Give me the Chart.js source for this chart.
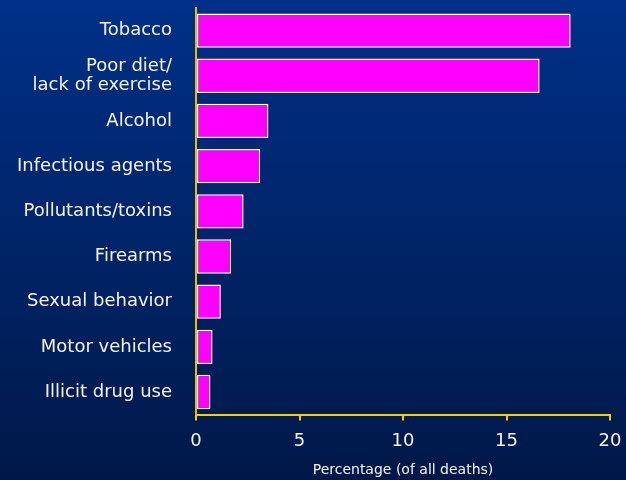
<!DOCTYPE html>
<html>
<head>
<meta charset="utf-8">
<script src="https://cdn.jsdelivr.net/npm/chart.js@4"></script>
<style>
  html, body { margin: 0; padding: 0; background: #001a4d; }
  canvas { display: block; }
</style>
</head>
<body>
<canvas id="chart" width="626" height="480"></canvas>
<script>
const categories = [
    'Tobacco',
    ['Poor diet/', 'lack of exercise'],
    'Alcohol',
    'Infectious agents',
    'Pollutants/toxins',
    'Firearms',
    'Sexual behavior',
    'Motor vehicles',
    'Illicit drug use'
];
const percentages = [18.1, 16.6, 3.5, 3.1, 2.3, 1.7, 1.2, 0.8, 0.7];
const xTicks = [0, 5, 10, 15, 20];

// gradient background behind everything
const bgPlugin = {
    id: 'bg',
    beforeDraw(chart) {
        const ctx = chart.ctx;
        const g = ctx.createLinearGradient(0, 0, 0, chart.height);
        g.addColorStop(0, '#003088');
        g.addColorStop(1, '#001848');
        ctx.save();
        ctx.fillStyle = g;
        ctx.fillRect(0, 0, chart.width, chart.height);
        ctx.restore();
    }
};

const ctx = document.getElementById('chart').getContext('2d');
new Chart(ctx, {
    type: 'bar',
    data: {
        labels: categories,
        datasets: [{
            data: percentages,
            backgroundColor: '#ff00ff',
            borderColor: '#ffffff',
            borderWidth: 1.5,
            borderSkipped: false,
            barPercentage: 0.76,
            categoryPercentage: 1
        }]
    },
    plugins: [bgPlugin],
    options: {
        indexAxis: 'y',
        responsive: false,
        animation: false,
        layout: { padding: { left: 0, right: 16, top: 8, bottom: 1 } },
        plugins: {
            legend: { display: false },
            tooltip: { enabled: false }
        },
        scales: {
            x: {
                min: 0,
                max: 20,
                afterBuildTicks(scale) {
                    scale.ticks = xTicks.map(v => ({ value: v }));
                },
                afterFit(scale) {
                    scale.paddingLeft = 0;
                    scale.paddingRight = 0;
                },
                grid: {
                    drawOnChartArea: false,
                    drawTicks: true,
                    tickLength: 6,
                    color: '#ffcc00',
                    lineWidth: 2
                },
                border: { color: '#ffcc00', width: 2 },
                ticks: {
                    color: '#f4f4f4',
                    font: { family: 'DejaVu Sans', size: 18 },
                    padding: 10,
                    maxRotation: 0
                },
                title: {
                    display: true,
                    text: 'Percentage (of all deaths)',
                    color: '#f4f4f4',
                    font: { family: 'DejaVu Sans', size: 14 },
                    padding: { top: 0, bottom: 0 }
                }
            },
            y: {
                afterFit(scale) {
                    scale.width = 196;
                    scale.paddingTop = 0;
                    scale.paddingBottom = 0;
                },
                grid: { display: false },
                border: { color: '#e8c000', width: 2 },
                ticks: {
                    color: '#f4f4f4',
                    font: { family: 'DejaVu Sans', size: 18, lineHeight: 1.05 },
                    padding: 16,
                    autoSkip: false
                }
            }
        }
    }
});
</script>
</body>
</html>
